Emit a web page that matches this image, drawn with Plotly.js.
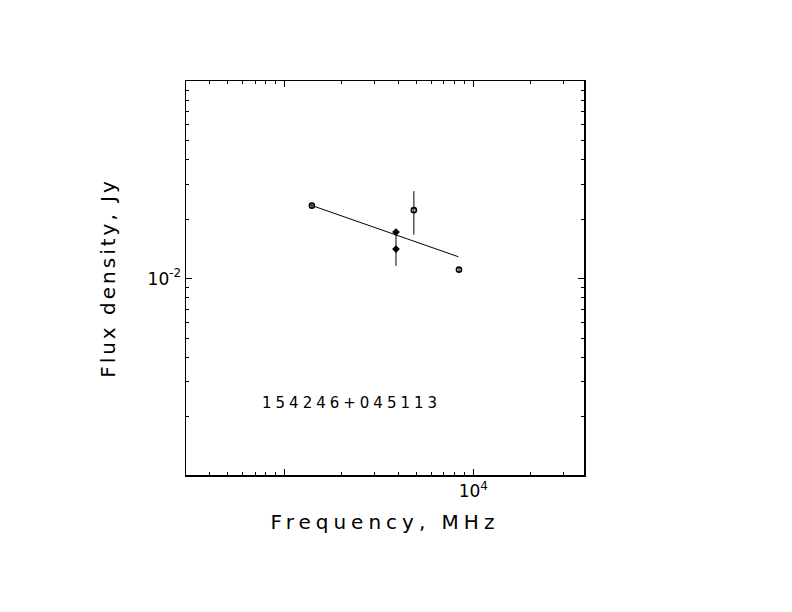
<!DOCTYPE html>
<html>
<head>
<meta charset="utf-8">
<script src="https://cdn.plot.ly/plotly-3.0.1.min.js"></script>
<style>
  html, body { margin: 0; padding: 0; background: #fff; }
  #chart { width: 792px; height: 612px; }
  .xtitle { letter-spacing: 5px; }
  .ytitle { letter-spacing: 3px; }
  .annotation-text { letter-spacing: 4px; }
</style>
</head>
<body>
<div id="chart"></div>
<script>
// Measured points (frequency in MHz, flux density in Jy)
const openFreq = [1400, 4850, 8400];
const openFlux = [0.0234, 0.0222, 0.0111];
const openErr  = [0.0004, 0.0055, 0.0002];

const filledFreq = [3900, 3900];
const filledFlux = [0.0172, 0.0141];
const filledErr  = [0.0006, 0.0025];

// Fitted spectrum line
const fitFreq = [1370, 8340];
const fitFlux = [0.0236, 0.0129];

const sourceName = "154246+045113";
const xTitle = "Frequency, MHz";
const yTitle = "Flux density, Jy";

const xMajor = [10000];
const xMajorText = ["10<sup>4</sup>"];
const xUnlabelled = [1000];
const yMajor = [0.01];
const yMajorText = ["10<sup>-2</sup>"];

function minorLogTicks(lo, hi) {
  const out = [];
  for (let d = Math.floor(Math.log10(lo)); d <= Math.ceil(Math.log10(hi)); d++) {
    for (let k = 2; k <= 9; k++) {
      const v = k * Math.pow(10, d);
      if (v > lo && v < hi) out.push(v);
    }
  }
  return out;
}

const traces = [
  {
    x: fitFreq, y: fitFlux, mode: 'lines', type: 'scatter',
    line: {color: '#000', width: 1}, hoverinfo: 'skip', showlegend: false
  },
  {
    x: openFreq, y: openFlux, mode: 'markers', type: 'scatter',
    marker: {symbol: 'circle-open', size: 5, color: '#000', line: {width: 1.6, color: '#000'}},
    error_y: {type: 'data', array: openErr, visible: true, width: 0, thickness: 1, color: '#000'},
    showlegend: false
  },
  {
    x: filledFreq, y: filledFlux, mode: 'markers', type: 'scatter',
    marker: {symbol: 'diamond', size: 6, color: '#000'},
    error_y: {type: 'data', array: filledErr, visible: true, width: 0, thickness: 1, color: '#000'},
    showlegend: false
  },
  {
    // invisible carrier for the secondary (unlabelled major tick) axis
    x: fitFreq, y: fitFlux, xaxis: 'x2', yaxis: 'y', mode: 'lines', type: 'scatter',
    line: {color: 'rgba(0,0,0,0)', width: 0}, hoverinfo: 'skip', showlegend: false
  }
];

const xr = [2.48, 4.586];
const yr = [-2.994, -1.0];

const minorStyle = {ticks: 'inside', ticklen: 3, tickwidth: 1, tickcolor: '#000', showgrid: false};

const layout = {
  width: 792, height: 612,
  margin: {l: 186, r: 208, t: 81, b: 137},
  paper_bgcolor: '#fff', plot_bgcolor: '#fff',
  font: {family: 'DejaVu Sans', color: '#000', size: 17},
  showlegend: false,
  xaxis: {
    type: 'log', range: xr,
    showgrid: false, zeroline: false,
    showline: true, linecolor: '#000', linewidth: 1.5, mirror: 'ticks',
    ticks: 'inside', ticklen: 6, tickwidth: 1, tickcolor: '#000',
    tickmode: 'array', tickvals: xMajor, ticktext: xMajorText,
    tickfont: {size: 17, color: '#000'},
    minor: Object.assign({tickmode: 'array',
      tickvals: minorLogTicks(Math.pow(10, xr[0]), Math.pow(10, xr[1]))}, minorStyle),
    title: {text: xTitle, font: {size: 20, color: '#000'}, standoff: 15}
  },
  xaxis2: {
    type: 'log', range: xr, overlaying: 'x', anchor: 'y', side: 'bottom',
    showgrid: false, zeroline: false, showline: false, mirror: 'ticks',
    ticks: 'inside', ticklen: 6, tickwidth: 1, tickcolor: '#000',
    tickmode: 'array', tickvals: xUnlabelled, showticklabels: false
  },
  yaxis: {
    type: 'log', range: yr,
    showgrid: false, zeroline: false,
    showline: true, linecolor: '#000', linewidth: 1.5, mirror: 'ticks',
    ticks: 'inside', ticklen: 6, tickwidth: 1, tickcolor: '#000',
    tickmode: 'array', tickvals: yMajor, ticktext: yMajorText,
    tickfont: {size: 17, color: '#000'},
    minor: Object.assign({tickmode: 'array',
      tickvals: minorLogTicks(Math.pow(10, yr[0]), Math.pow(10, yr[1]))}, minorStyle),
    title: {text: yTitle, font: {size: 20, color: '#000'}, standoff: 26}
  },
  annotations: [
    {text: sourceName, xref: 'paper', yref: 'paper', x: 0.4146, y: 0.182,
     xanchor: 'center', yanchor: 'middle', showarrow: false,
     font: {size: 15, color: '#000'}}
  ]
};

Plotly.newPlot('chart', traces, layout, {staticPlot: true, displayModeBar: false});
</script>
</body>
</html>
